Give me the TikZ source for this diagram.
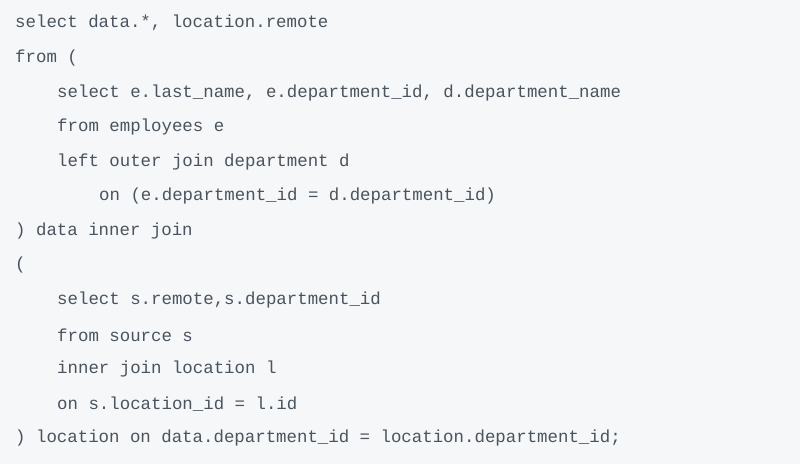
\documentclass[tikz,border=0pt]{standalone}
\usepackage{fontspec}
\setmonofont{Liberation Mono}
\definecolor{codebg}{HTML}{F5F7F9}
\definecolor{codefg}{HTML}{4A545E}
\begin{document}
\begin{tikzpicture}[x=1pt, y=-1pt,
    codeline/.style={anchor=west, inner sep=0pt, text=codefg, font=\ttfamily\fontsize{17.4}{17.4}\selectfont}]
    \fill[codebg] (0,0) rectangle (800,464);
    \node[codeline] (l1) at (15,23) {select data.*, location.remote};
    \node[codeline] (l2) at (15,58) {from (};
    \node[codeline] (l3) at (57,93) {select e.last\_name, e.department\_id, d.department\_name};
    \node[codeline] (l4) at (57,127) {from employees e};
    \node[codeline] (l5) at (57,162) {left outer join department d};
    \node[codeline] (l6) at (99,196) {on (e.department\_id = d.department\_id)};
    \node[codeline] (l7) at (15,231) {) data inner join};
    \node[codeline] (l8) at (15,265) {(};
    \node[codeline] (l9) at (57,300) {select s.remote,s.department\_id};
    \node[codeline] (l10) at (57,335) {from source s};
    \node[codeline] (l11) at (57,369) {inner join location l};
    \node[codeline] (l12) at (57,404) {on s.location\_id = l.id};
    \node[codeline] (l13) at (15,438) {) location on data.department\_id = location.department\_id;};
\end{tikzpicture}
\end{document}
